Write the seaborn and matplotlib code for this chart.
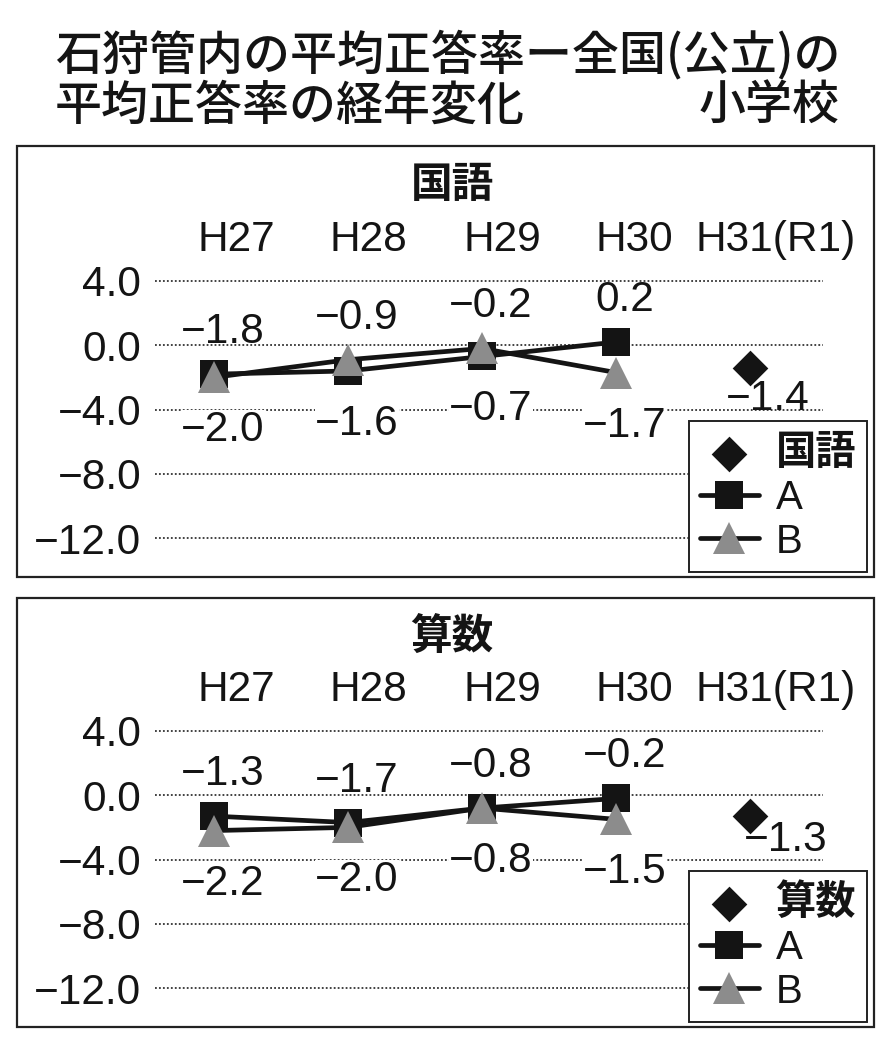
import matplotlib
matplotlib.use("Agg")
import matplotlib.pyplot as plt
import matplotlib.transforms as mtrans
from matplotlib.patches import Rectangle
import pandas as pd
import seaborn as sns

# ---- data -------------------------------------------------------------
years = ["H27", "H28", "H29", "H30", "H31(R1)"]

kokugo_a = [-1.8, -1.6, -0.7, 0.2]
kokugo_b = [-2.0, -0.9, -0.2, -1.7]
kokugo_r1 = -1.4

sansu_a = [-1.3, -1.7, -0.8, -0.2]
sansu_b = [-2.2, -2.0, -0.8, -1.5]
sansu_r1 = -1.3

y_ticks = [4.0, 0.0, -4.0, -8.0, -12.0]

title_line1 = "石狩管内の平均正答率ー全国(公立)の"
title_line2 = "平均正答率の経年変化"
title_right = "小学校"

# ---- style ------------------------------------------------------------
sns.set_theme(style="white")
NUM_FONT = ["Liberation Sans", "Noto Sans CJK JP"]
JP_FONT = ["Noto Sans CJK JP", "DejaVu Sans"]
plt.rcParams["font.family"] = NUM_FONT
plt.rcParams["axes.unicode_minus"] = True

W, H = 891, 1051
DPI = 100
fig = plt.figure(figsize=(W / DPI, H / DPI), dpi=DPI)
fig.patch.set_facecolor("white")

BLACK = "#141414"
GREY = "#8c8c8c"
NUM_SIZE = 30.5


def fx(px):
    return px / W


def fy(py):
    return 1 - py / H


def fmt(v):
    s = f"{abs(v):.1f}"
    return ("\u2212" + s) if v < 0 else s


def draw_panel(top_px, bottom_px, grid_top_px, subject, vals_a, vals_b,
               r1_val, r1_offset):
    # outer frame
    fig.patches.append(Rectangle((fx(17), fy(bottom_px)), fx(874) - fx(17),
                                 fy(top_px) - fy(bottom_px),
                                 transform=fig.transFigure, fill=False,
                                 edgecolor="#222222", linewidth=1.6))
    # axes: grid from 4.0 (grid_top_px) down to -12.0
    ppu = 257 / 16.0
    ymin, ymax = -12.3, 4.3
    ax_top = grid_top_px - (ymax - 4.0) * ppu
    ax_bot = grid_top_px + (4.0 - ymin) * ppu
    x0_px, step_px = 214, 134
    left_px, right_px = 155, 823
    ax = fig.add_axes([fx(left_px), fy(ax_bot), fx(right_px) - fx(left_px),
                       fy(ax_top) - fy(ax_bot)])
    ax.set_xlim((left_px - x0_px) / step_px, (right_px - x0_px) / step_px)
    ax.set_ylim(ymin, ymax)
    ax.set_facecolor("none")
    for s in ax.spines.values():
        s.set_visible(False)

    ax.set_yticks(y_ticks)
    ax.set_yticklabels([fmt(v) for v in y_ticks], fontsize=NUM_SIZE,
                       color=BLACK)
    ax.tick_params(axis="y", length=0, pad=10)
    ax.yaxis.grid(True, linestyle=(0, (1.0, 1.2)), linewidth=1.3,
                  color="#333333")
    ax.set_axisbelow(True)

    # year labels along the top
    ax.set_xticks(range(len(years)))
    ax.set_xticklabels(years, fontsize=NUM_SIZE, color=BLACK)
    ax.tick_params(axis="x", length=0, top=True, bottom=False,
                   labeltop=True, labelbottom=False, pad=12)
    offs = [22, 20, 20, 18, 26]
    for lbl, o in zip(ax.get_xticklabels(), offs):
        lbl.set_transform(lbl.get_transform() +
                          mtrans.ScaledTranslation(o / DPI, 0,
                                                   fig.dpi_scale_trans))

    n = len(vals_a)
    df = pd.DataFrame({"x": list(range(n)) * 2,
                       "value": list(vals_a) + list(vals_b),
                       "series": ["A"] * n + ["B"] * n})

    sns.lineplot(data=df[df.series == "A"], x="x", y="value", ax=ax,
                 color=BLACK, linewidth=3.4, marker="s", markersize=20,
                 markerfacecolor=BLACK, markeredgecolor=BLACK,
                 markeredgewidth=0, label="A", zorder=3)
    sns.lineplot(data=df[df.series == "B"], x="x", y="value", ax=ax,
                 color=BLACK, linewidth=3.4, marker="^", markersize=23,
                 markerfacecolor=GREY, markeredgecolor=GREY,
                 markeredgewidth=0, label="B", zorder=4)
    sns.scatterplot(x=[n], y=[r1_val], ax=ax, marker="D", s=330,
                    color=BLACK, edgecolor=BLACK, linewidth=0,
                    label=subject, zorder=5)
    ax.set_xlabel("")
    ax.set_ylabel("")

    # value labels: higher value above the point, lower below
    for i, (a, b) in enumerate(zip(vals_a, vals_b)):
        hi, lo = (a, b) if a >= b else (b, a)
        ax.annotate(fmt(hi), (i, hi), xytext=(9, 42),
                    textcoords="offset pixels", ha="center", va="center",
                    fontsize=NUM_SIZE, color=BLACK, annotation_clip=False)
        ax.annotate(fmt(lo), (i, lo), xytext=(9, -53),
                    textcoords="offset pixels", ha="center", va="center",
                    fontsize=NUM_SIZE, color=BLACK, annotation_clip=False,
                    bbox=dict(boxstyle="square,pad=0.0", fc="white",
                              ec="none"))
    ax.annotate(fmt(r1_val), (n, r1_val), xytext=r1_offset,
                textcoords="offset pixels", ha="center", va="center",
                fontsize=NUM_SIZE, color=BLACK, annotation_clip=False)

    # subject heading
    fig.text(fx(452), fy(top_px + 39), subject, ha="center", va="center",
             fontsize=30, fontweight="bold", family=JP_FONT, color=BLACK)

    # legend: diamond first, then A, B
    handles, labels = ax.get_legend_handles_labels()
    order = [labels.index(subject), labels.index("A"), labels.index("B")]
    leg = ax.legend([handles[k] for k in order], [labels[k] for k in order],
                    loc="upper left",
                    bbox_to_anchor=(fx(689), fy(bottom_px - 156)),
                    bbox_transform=fig.transFigure,
                    fontsize=29, frameon=True, fancybox=False,
                    framealpha=1, edgecolor="#222222", borderpad=0.28,
                    labelspacing=0.14, handlelength=1.45, handletextpad=0.42,
                    borderaxespad=0, markerscale=1.0)
    leg.get_frame().set_linewidth(1.4)
    for t in leg.get_texts():
        t.set_color(BLACK)
    leg.get_texts()[0].set_fontfamily(JP_FONT)
    leg.get_texts()[0].set_fontweight("bold")
    return ax


# ---- title ------------------------------------------------------------
for text, x, y, ha in [(title_line1, 55, 56, "left"),
                       (title_line2, 55, 106, "left"),
                       (title_right, 840, 106, "right")]:
    fig.text(fx(x), fy(y), text, ha=ha, va="center", fontsize=33.8,
             family=JP_FONT, fontweight="medium", color=BLACK)

# ---- panels -----------------------------------------------------------
draw_panel(146, 577, 281, "国語", kokugo_a, kokugo_b, kokugo_r1, (18, -31))
draw_panel(598, 1027, 731, "算数", sansu_a, sansu_b, sansu_r1, (36, -24))

fig.savefig("out.png", dpi=DPI, facecolor="white")
